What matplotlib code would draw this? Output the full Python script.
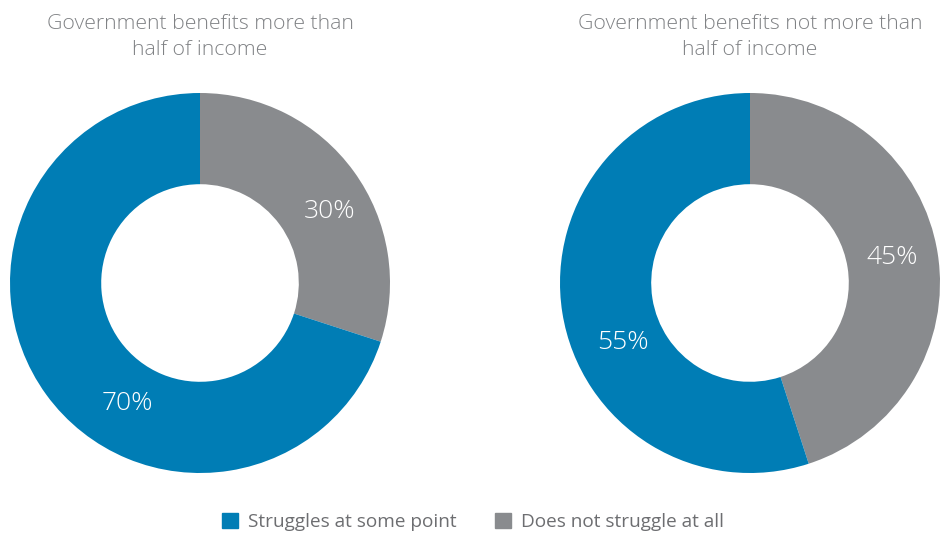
import numpy as np
import matplotlib.pyplot as plt
from matplotlib.patches import Patch

plt.rcParams['font.family'] = ['Open Sans', 'DejaVu Sans']

titles = ["Government benefits more than\nhalf of income",
          "Government benefits not more than\nhalf of income"]
categories = ["Struggles at some point", "Does not struggle at all"]
struggles = [70, 55]
no_struggle = [30, 45]

blue = "#007db5"
gray = "#898b8e"
text_gray = "#808285"

# where each percentage sits: (angle in degrees, radius) for [gray, blue]
label_pos = [[(29, 0.78), (239, 0.74)],
             [(10, 0.76), (205, 0.74)]]

W, H = 940, 539
fig = plt.figure(figsize=(W / 100, H / 100), dpi=100)

centers = [200, 750]
radius = 190
cy = 283

for cx, title, s, n, pos in zip(centers, titles, struggles, no_struggle, label_pos):
    ax = fig.add_axes([(cx - radius) / W, (H - cy - radius) / H,
                       2 * radius / W, 2 * radius / H])
    wedges, _, autotexts = ax.pie(
        [n, s], colors=[gray, blue], startangle=90, counterclock=False,
        radius=1.0, wedgeprops=dict(width=0.48, edgecolor="none"),
        autopct="%d%%", pctdistance=0.76,
        textprops=dict(color="white", fontsize=19, fontweight="light"))
    for t, (ang, r) in zip(autotexts, pos):
        a = np.deg2rad(ang)
        t.set_position((r * np.cos(a), r * np.sin(a)))
    ax.set_xlim(-1, 1)
    ax.set_ylim(-1, 1)
    ax.set_aspect("equal")
    fig.text(cx / W, 1 - 37 / H, title, ha="center", va="center",
             fontsize=15.3, color=text_gray, fontweight="light",
             linespacing=1.38)

handles = [Patch(color=blue), Patch(color=gray)]
fig.legend(handles, categories, loc="center", ncol=2,
           bbox_to_anchor=(473 / W, 1 - 522 / H), frameon=False,
           handlelength=0.85, handleheight=0.85, handletextpad=0.55,
           columnspacing=2.0, fontsize=13.7,
           labelcolor="#6d6e71")

fig.savefig("out.png", dpi=100)
